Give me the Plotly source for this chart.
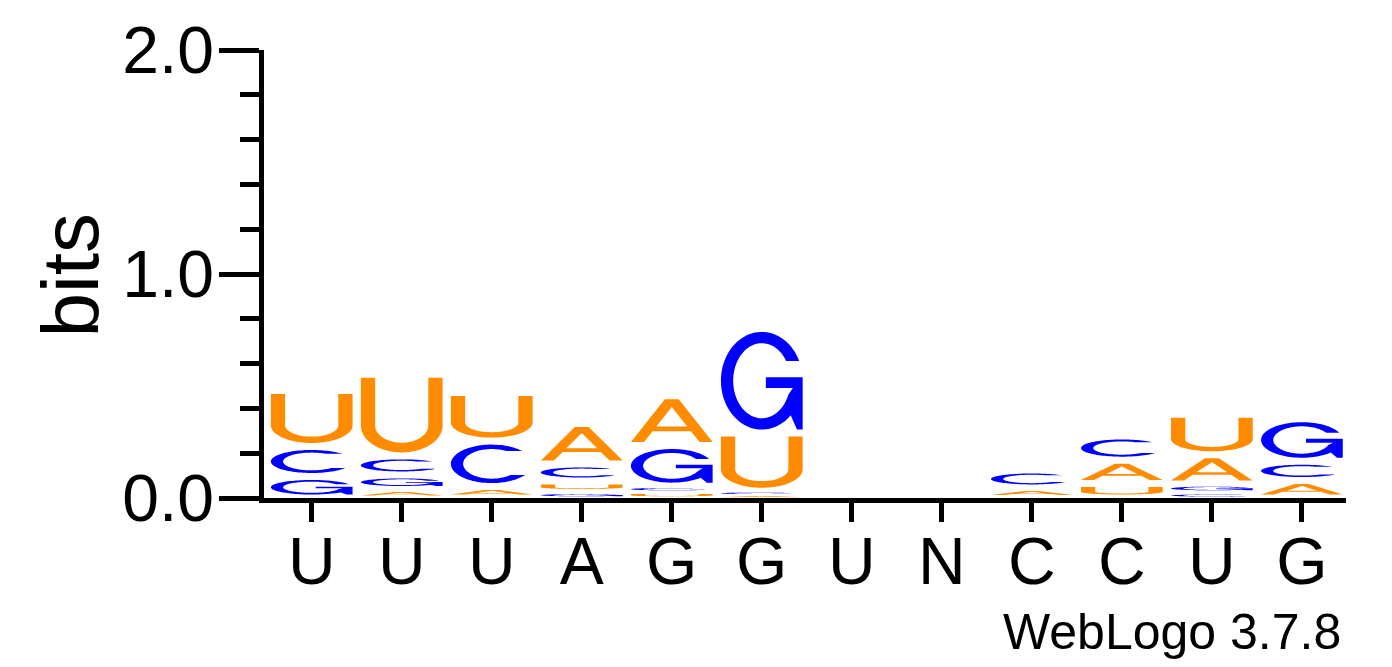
import numpy as np
import plotly.graph_objects as go

# ---------------- data (bits per letter) ----------------
positions = list(range(1, 13))
consensus = ["U", "U", "U", "A", "G", "G", "U", "N", "C", "C", "U", "G"]
A_bits = [0.000, 0.038, 0.051, 0.181, 0.223, 0.012, 0.0, 0.0, 0.045, 0.104, 0.130, 0.078]
C_bits = [0.134, 0.085, 0.203, 0.076, 0.027, 0.018, 0.0, 0.0, 0.080, 0.108, 0.022, 0.086]
G_bits = [0.096, 0.065, 0.000, 0.025, 0.181, 0.467, 0.0, 0.0, 0.000, 0.000, 0.041, 0.190]
U_bits = [0.250, 0.364, 0.217, 0.051, 0.026, 0.260, 0.0, 0.0, 0.000, 0.065, 0.181, 0.000]
y_ticks = [0.0, 1.0, 2.0]

colors = {"A": "#FF8C00", "U": "#FF8C00", "C": "#0000FF", "G": "#0000FF"}

LETTER_W = 0.908   # fraction of a column
INSET = 0.0156     # bits of padding above/below each glyph


def arc(cx, cy, rx, ry, a0, a1, n=60):
    t = np.radians(np.linspace(a0, a1, n))
    return list(zip(cx + rx * np.cos(t), cy + ry * np.sin(t)))


def glyph(letter):
    """Outline polygons of a Helvetica-like glyph in a unit box (y up)."""
    if letter == "U":
        t, tb, R = 0.175, 0.13, 0.36
        pts = [(0.0, 1.0)] + arc(0.5, R, 0.5, R, 180, 360) + [(1.0, 1.0), (1 - t, 1.0)]
        pts += arc(0.5, R, 0.5 - t, R - tb, 360, 180) + [(t, 1.0)]
        return [pts]
    if letter == "C":
        t, tv = 0.15, 0.115
        at, ab = 42.0, 35.0
        it = np.degrees(np.arcsin(0.5 * np.sin(np.radians(at)) / (0.5 - tv)))
        ib = np.degrees(np.arcsin(0.5 * np.sin(np.radians(ab)) / (0.5 - tv)))
        pts = arc(0.5, 0.5, 0.5, 0.5, at, 360 - ab, 90)
        pts += arc(0.5, 0.5, 0.5 - t, 0.5 - tv, 360 - ib, it, 90)
        return [pts]
    if letter == "G":
        t, tv = 0.15, 0.115
        at = 24.0
        it = np.degrees(np.arcsin(0.5 * np.sin(np.radians(at)) / (0.5 - tv)))
        pts = arc(0.5, 0.5, 0.5, 0.5, at, 315, 90)
        pts += [(0.93, 0.0), (1.0, 0.0), (1.0, 0.535), (0.55, 0.535),
                (0.55, 0.425), (0.88, 0.425)]
        pts += arc(0.5, 0.5, 0.5 - t, 0.5 - tv, -22, -(360 - it), 90)
        return [pts]
    if letter == "A":
        outer = [(0.0, 0.0), (0.415, 1.0), (0.585, 1.0), (1.0, 0.0), (0.84, 0.0),
                 (0.734, 0.255), (0.266, 0.255), (0.16, 0.0)]
        hole = [(0.311, 0.365), (0.689, 0.365), (0.5, 0.819)]
        return [outer, hole]
    return []


letter_bits = {"A": A_bits, "C": C_bits, "G": G_bits, "U": U_bits}

shapes = []
totals = []
for i, pos in enumerate(positions):
    stack = [(L, letter_bits[L][i]) for L in ["A", "C", "G", "U"] if letter_bits[L][i] > 0]
    stack.sort(key=lambda s: s[1])
    base = 0.0
    for L, h in stack:
        pad = min(INSET, 0.3 * h)
        y0, y1 = base + pad, base + h - pad
        x0 = pos - LETTER_W / 2
        parts = []
        for poly in glyph(L):
            coords = ["%.5f,%.5f" % (x0 + u * LETTER_W, y0 + v * (y1 - y0)) for u, v in poly]
            parts.append("M" + " L".join(coords) + " Z")
        shapes.append(dict(type="path", xref="x", yref="y", path=" ".join(parts),
                           fillcolor=colors[L], line=dict(width=0),
                           fillrule="evenodd", layer="above"))
        base += h
    totals.append(base)

fig = go.Figure()
fig.add_trace(go.Scatter(x=positions, y=totals, mode="markers",
                         marker=dict(opacity=0), hoverinfo="skip", showlegend=False))

FONT = "Liberation Sans, Arial, Helvetica, sans-serif"
fig.update_layout(
    width=1376, height=651,
    margin=dict(l=256, r=38, t=42, b=161, autoexpand=False),
    paper_bgcolor="white", plot_bgcolor="white",
    shapes=shapes,
    showlegend=False,
    xaxis=dict(range=[0.47, 12.49], tickmode="array", tickvals=positions, ticktext=consensus,
               automargin=False,
               showline=True, linecolor="black", linewidth=4.5,
               ticks="outside", ticklen=19, tickwidth=4.5, tickcolor="black",
               tickfont=dict(family=FONT, size=66, color="black"),
               ticklabelstandoff=-17,
               showgrid=False, zeroline=False, fixedrange=True),
    yaxis=dict(range=[0, 2], tickmode="array", tickvals=y_ticks,
               ticktext=["%.1f" % v for v in y_ticks],
               automargin=False,
               showline=True, linecolor="black", linewidth=4.5,
               ticks="outside", ticklen=40, tickwidth=4.5, tickcolor="black",
               tickfont=dict(family=FONT, size=66, color="black"),
               ticklabelstandoff=-8,
               minor=dict(tickmode="linear", tick0=0, dtick=0.2, ticks="outside",
                          ticklen=19, tickwidth=4.5, tickcolor="black", showgrid=False),
               showgrid=False, zeroline=False, fixedrange=True),
    annotations=[
        dict(text="bits", xref="paper", yref="paper", x=-0.1793, y=0.499,
             xanchor="center", yanchor="middle", textangle=-90, showarrow=False,
             font=dict(family=FONT, size=80, color="black")),
        dict(text="WebLogo 3.7.8", xref="paper", yref="paper",
             x=0.997, y=-0.299, xanchor="right", yanchor="middle",
             showarrow=False, font=dict(family=FONT, size=50, color="black")),
    ],
)

fig.write_html("out.html")
